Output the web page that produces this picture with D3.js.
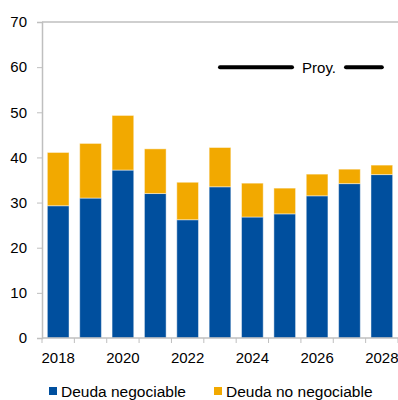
<!DOCTYPE html>
<html><head><meta charset="utf-8">
<script src="https://cdn.jsdelivr.net/npm/d3@7"></script>
<style>body{margin:0;background:#fff}svg{display:block}text{font-family:"Liberation Sans",Arial,sans-serif;fill:#000}</style>
</head><body><svg id="c" width="398" height="400"></svg>
<script>
const years = [2018,2019,2020,2021,2022,2023,2024,2025,2026,2027,2028];
const negociable = [29.3,31.0,37.2,32.0,26.2,33.5,26.8,27.5,31.5,34.2,36.2];
const noNegociable = [11.8,12.1,12.1,9.9,8.3,8.7,7.5,5.7,4.8,3.2,2.1];
const yTicks = [0,10,20,30,40,50,60,70];
const xLabels = [2018,2020,2022,2024,2026,2028];
const seriesNames = ["Deuda negociable","Deuda no negociable"];
const colors = ["#004f9e","#f2a900"];
const projStart = 2023, projEnd = 2028, projLabel = "Proy.";

const svg = d3.select("#c");
const m = {l:42, r:0, t:22, b:62};
const W = 398, H = 400;
const x = d3.scaleBand().domain(years).range([m.l, W-m.r]).paddingInner(0.33).paddingOuter(0.165);
const y = d3.scaleLinear().domain([0,70]).range([H-m.b, m.t]);
const grey = "#bfbfbf";

const data = years.map((yr,i)=>({year:yr, a:negociable[i], b:noNegociable[i]}));
const stack = d3.stack().keys(["a","b"])(data);

svg.append("g").selectAll("g").data(stack).join("g").attr("fill",(d,i)=>colors[i])
  .selectAll("rect").data(d=>d).join("rect")
  .attr("x",d=>x(d.data.year)).attr("width",x.bandwidth())
  .attr("y",d=>y(d[1])).attr("height",d=>y(d[0])-y(d[1]))
  .attr("stroke","#fff").attr("stroke-opacity",0.45).attr("stroke-width",1);

// top border
svg.append("line").attr("x1",m.l).attr("x2",W).attr("y1",y(70)).attr("y2",y(70)).attr("stroke",grey).attr("stroke-width",1.5);

// y axis
const ya = svg.append("g").attr("transform",`translate(${m.l},0)`)
  .call(d3.axisLeft(y).tickValues(yTicks).tickSize(5).tickPadding(10));
ya.select(".domain").attr("stroke",grey).attr("stroke-width",1.5);
ya.selectAll(".tick line").attr("stroke",grey);
ya.selectAll("text").attr("font-size",15).attr("font-family","Liberation Sans, Arial, sans-serif").attr("fill","#000");

// x axis with ticks between categories
const step = x.step();
const bounds = years.map(yr=>x(yr) - (step - x.bandwidth())/2).concat([W]);
const xa = svg.append("g");
xa.append("line").attr("x1",m.l).attr("x2",W).attr("y1",y(0)).attr("y2",y(0)).attr("stroke",grey).attr("stroke-width",1.5);
xa.selectAll(".tk").data(bounds).join("line").attr("class","tk")
  .attr("x1",d=>d).attr("x2",d=>d).attr("y1",y(0)).attr("y2",y(0)+5).attr("stroke",grey);
xa.selectAll(".lb").data(xLabels).join("text").attr("class","lb")
  .attr("x",d=>x(d)+x.bandwidth()/2).attr("y",y(0)+25).attr("text-anchor","middle").attr("font-size",15).text(d=>d);

// projection marker
const py = y(60);
const px1 = x(projStart)+x.bandwidth()/2, px2 = x(projEnd)+x.bandwidth()/2;
svg.append("line").attr("x1",px1).attr("x2",292).attr("y1",py).attr("y2",py).attr("stroke","#000").attr("stroke-width",4).attr("stroke-linecap","round");
svg.append("line").attr("x1",346).attr("x2",px2).attr("y1",py).attr("y2",py).attr("stroke","#000").attr("stroke-width",4).attr("stroke-linecap","round");
svg.append("text").attr("x",319).attr("y",py+5.5).attr("text-anchor","middle").attr("font-size",15).text(projLabel);

// legend
const lg = svg.append("g");
const lx = [49,214];
seriesNames.forEach((n,i)=>{
  lg.append("rect").attr("x",lx[i]).attr("y",387).attr("width",8).attr("height",8).attr("fill",colors[i]);
  lg.append("text").attr("x",lx[i]+12).attr("y",397).attr("font-size",15.5).text(n);
});
</script></body></html>
